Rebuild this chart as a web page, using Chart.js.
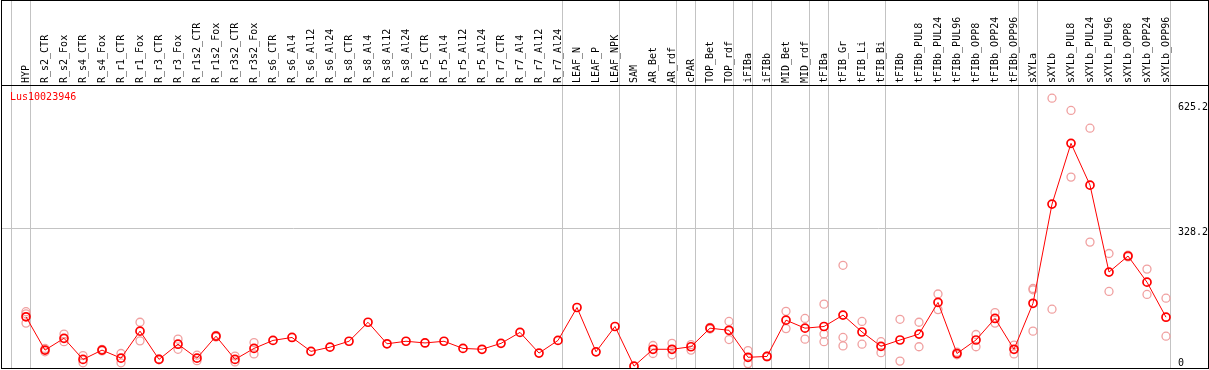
<!DOCTYPE html>
<html>
<head>
<meta charset="utf-8">
<script src="https://cdn.jsdelivr.net/npm/chart.js@4.4.1/dist/chart.umd.min.js"></script>
<style>
  html, body { margin: 0; padding: 0; background: #fff; }
  #wrap { position: relative; width: 1209px; height: 370px; }
  #gene { position: absolute; left: 10px; top: 91px; font: 10px "DejaVu Sans Mono", monospace; line-height: 12px; color: #ff0000; }
</style>
</head>
<body>
<div id="wrap">
  <canvas id="c" width="1209" height="370"></canvas>
  <div id="gene">Lus10023946</div>
</div>
<script>
const categories = ["HYP","R_s2_CTR","R_s2_Fox","R_s4_CTR","R_s4_Fox","R_r1_CTR","R_r1_Fox","R_r3_CTR","R_r3_Fox",
  "R_r1s2_CTR","R_r1s2_Fox","R_r3s2_CTR","R_r3s2_Fox","R_s6_CTR","R_s6_Al4","R_s6_Al12","R_s6_Al24",
  "R_s8_CTR","R_s8_Al4","R_s8_Al12","R_s8_Al24","R_r5_CTR","R_r5_Al4","R_r5_Al12","R_r5_Al24",
  "R_r7_CTR","R_r7_Al4","R_r7_Al12","R_r7_Al24","LEAF_N","LEAF_P","LEAF_NPK","SAM","AR_Bet","AR_rdf",
  "cPAR","TOP_Bet","TOP_rdf","iFIBa","iFIBb","MID_Bet","MID_rdf","tFIBa","tFIB_Gr","tFIB_Li","tFIB_Bi",
  "tFIBb","tFIBb_PUL8","tFIBb_PUL24","tFIBb_PUL96","tFIBb_OPP8","tFIBb_OPP24","tFIBb_OPP96",
  "sXYLa","sXYLb","sXYLb_PUL8","sXYLb_PUL24","sXYLb_PUL96","sXYLb_OPP8","sXYLb_OPP24","sXYLb_OPP96"];

const means = [119,40,68,18,40,21,85,18,54,21,73,18,44,63,70,37,47,61,106,55,61,57,61,44,42,56,82,33,63,
  141,36,96,2,42,42,48,92,87,23,25,111,92,96,123,83,49,64,78,153,32,64,115,42,151,386,530,431,225,263,201,118];

const replicates = [[131,126,104],[44,36],[78,60],[27,10],[42,38],[32,10],[106,62],[19,17],[66,42],
  [28,15],[75,71],[26,12],[58,31],[],[],[],[],[],[],[],[],[],[],[],[],[],[],[],[],
  [],[],[],[],[51,32],[56,29],[53,40],[94,90],[108,65],[39,8],[26,24],[132,91],[115,66],
  [149,78,60],[241,70,50],[108,54],[60,34],[113,14],[106,48],[173,136],[35,29],[77,48],[129,104],[52,31],
  [186,183,85],[637,137],[608,450],[566,296],[269,179],[265,261],[232,172],[163,73]];

// index of the last category in each group (group separators)
const groupEnds = [-1,0,28,31,34,35,37,38,39,41,42,45,52,53,60];
const yTicks = [0, 328.2, 625.2];

const zeroPad = s => { s.paddingTop = 0; s.paddingBottom = 0; s.paddingLeft = 0; s.paddingRight = 0; };

const framePlugin = {
  id: 'frame',
  afterDraw(chart) {
    const ctx = chart.ctx, a = chart.chartArea;
    ctx.save();
    ctx.fillStyle = '#000';
    ctx.fillRect(1, 0, 1208, 1);
    ctx.fillRect(1, 368, 1208, 1);
    ctx.fillRect(1, 0, 1, 369);
    ctx.fillRect(1208, 0, 1, 369);
    ctx.fillRect(1, Math.round(a.top), 1208, 1);
    ctx.restore();
  }
};

new Chart(document.getElementById('c'), {
  data: {
    datasets: [
      {
        type: 'line',
        data: means.map((v, i) => ({ x: i, y: v })),
        borderColor: '#ff0000',
        borderWidth: 1,
        pointRadius: 4,
        pointBorderWidth: 1.7,
        pointBorderColor: '#ff0000',
        pointBackgroundColor: 'rgba(0,0,0,0)',
        tension: 0,
        order: 1,
        xAxisID: 'x', yAxisID: 'y'
      },
      {
        type: 'scatter',
        data: replicates.flatMap((arr, i) => arr.map(v => ({ x: i, y: v }))),
        borderColor: '#f0a0a0',
        pointRadius: 4,
        pointBorderWidth: 1.3,
        pointBackgroundColor: 'rgba(0,0,0,0)',
        showLine: false,
        order: 2,
        xAxisID: 'x', yAxisID: 'y'
      }
    ]
  },
  options: {
    responsive: false,
    animation: false,
    events: [],
    layout: { autoPadding: false, padding: { left: 1, right: 1, top: 0, bottom: 2 } },
    plugins: { legend: { display: false }, tooltip: { enabled: false }, title: { display: false } },
    scales: {
      x: {
        type: 'linear', position: 'top', weight: 1,
        min: -25 / 19, max: 60 + 5 / 19,
        afterBuildTicks: s => { s.ticks = categories.map((_, i) => ({ value: i })); },
        afterFit: s => { s.height = 85; zeroPad(s); },
        grid: { display: false, drawTicks: false },
        border: { display: false },
        ticks: {
          autoSkip: false, minRotation: 90, maxRotation: 90, padding: 2,
          color: '#000', font: { family: "DejaVu Sans Mono", size: 10, lineHeight: '0px' },
          callback: v => categories[v]
        }
      },
      x2: {
        type: 'linear', position: 'top', weight: 0,
        min: -25 / 19, max: 60 + 5 / 19,
        afterBuildTicks: s => { s.ticks = groupEnds.map(k => ({ value: k + 0.23 })); },
        afterFit: s => { s.height = 0; zeroPad(s); },
        grid: { color: '#c3c3c3', lineWidth: 1, drawTicks: true, tickLength: 85, drawOnChartArea: true },
        border: { display: false },
        ticks: { display: false }
      },
      y: {
        type: 'linear', position: 'right',
        min: -2.37, max: 668.3,
        afterBuildTicks: s => { s.ticks = yTicks.map(v => ({ value: v })); },
        afterFit: s => { s.width = 37; zeroPad(s); },
        grid: {
          drawTicks: false,
          color: c => (c.tick && c.tick.value === 328.2) ? '#c3c3c3' : 'rgba(0,0,0,0)'
        },
        border: { display: false },
        ticks: {
          padding: 7, color: '#000',
          font: { family: "DejaVu Sans Mono", size: 10, lineHeight: '8px' },
          callback: v => v === 0 ? ['0', ''] : ['', String(v)]
        }
      }
    }
  },
  plugins: [framePlugin]
});
</script>
</body>
</html>
